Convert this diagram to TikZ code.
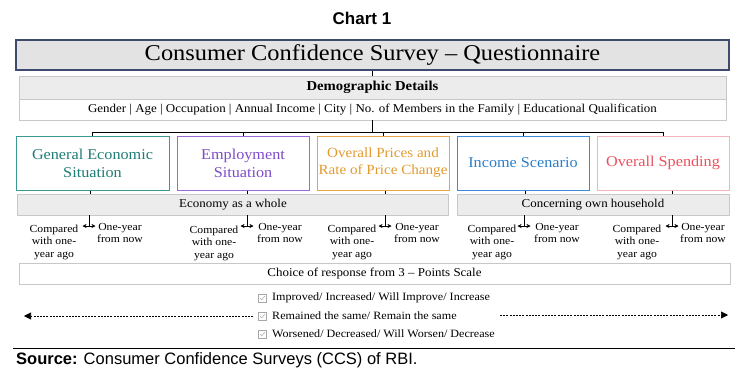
\documentclass[tikz,border=0pt]{standalone}
\usepackage{fontspec}
\setmainfont{Liberation Serif}[FakeStretch=1.08]
\newfontfamily\arialf{Liberation Sans}
\usetikzlibrary{arrows.meta,calc}
\newcommand\myfs[2]{\fontsize{#1}{#2}\selectfont}
\definecolor{titleb}{HTML}{3E4A6E}
\definecolor{titlef}{HTML}{E3E3E3}
\definecolor{barf}{HTML}{ECECEC}
\definecolor{lineg}{HTML}{C8C8C8}
\definecolor{tealb}{HTML}{3A9A92}
\definecolor{tealt}{HTML}{1F7D76}
\definecolor{purpb}{HTML}{9A6AD6}
\definecolor{purpt}{HTML}{7E4CC8}
\definecolor{orab}{HTML}{EBA443}
\definecolor{orat}{HTML}{E39A2E}
\definecolor{blueb}{HTML}{3D8BD6}
\definecolor{bluet}{HTML}{2A7FCB}
\definecolor{pinkb}{HTML}{F4B6BE}
\definecolor{pinkt}{HTML}{EE4F5D}
\definecolor{chk}{HTML}{A8A8A8}
\begin{document}
\begin{tikzpicture}[x=1pt,y=-1pt,
  greybox/.style={draw=lineg, fill=barf, inner sep=0pt},
  whitebox/.style={draw=lineg, fill=white, inner sep=0pt},
  topic/.style={draw=#1, line width=1pt, fill=white, minimum width=132pt, minimum height=54pt, inner sep=0pt, align=center, font=\myfs{15}{18}},
  conn/.style={line width=0.8pt, black},
  stub/.style={line width=0.8pt, black},
  twoway/.style={line width=0.6pt, {Stealth[length=4pt,width=4pt]}-{Stealth[length=4pt,width=4pt]}},
  cmp/.style={align=center, font=\myfs{10.8}{12.2}, anchor=north, inner sep=0pt},
  chkbox/.style={draw=chk, minimum size=8pt, inner sep=0pt, line width=0.5pt},
  chktxt/.style={anchor=west, inner sep=0pt, font=\myfs{11.2}{13}},
  dasharrow/.style={dash pattern=on 2pt off 1.2pt, line width=0.6pt, -{Triangle[length=7pt,width=7pt]}}
]
\useasboundingbox (0,0) rectangle (744,381);

% Header
\node[font=\arialf\bfseries\myfs{17}{19}] (chart) at (362,18) {Chart 1};

\node[draw=titleb, line width=1.2pt, fill=titlef, minimum width=713pt, minimum height=30pt, inner sep=0pt, font=\myfs{22.6}{24}] (title) at (372.5,55) {Consumer Confidence Survey – Questionnaire};

\node[greybox, minimum width=707pt, minimum height=23pt, font=\bfseries\myfs{13.6}{15}] (demo) at (372.5,87.5) {Demographic Details};
\node[whitebox, minimum width=707pt, minimum height=21pt, font=\myfs{12}{13}] (gender) at (372.5,109.5) {Gender | Age | Occupation | Annual Income | City | No. of Members in the Family | Educational Qualification};

\draw[conn] (title.south) -- (demo.north);

% Topic boxes
\node[topic=tealb, minimum width=153pt, text=tealt] (b1) at (92.5,163) {General Economic\\Situation};
\node[topic=purpb, text=purpt] (b2) at (243,163) {Employment\\Situation};
\node[topic=orab, text=orat, font=\myfs{14}{17}] (b3) at (383,163) {Overall Prices and\\Rate of Price Change};
\node[topic=blueb, text=bluet] (b4) at (523,163) {Income Scenario};
\node[topic=pinkb, text=pinkt] (b5) at (663,163) {Overall Spending};

\coordinate (bus) at (372.5,132);
\draw[conn] (gender.south) -- (bus);
\draw[conn] (b1.north) -- (b1.north |- bus) -- (b5.north |- bus) -- (b5.north);
\draw[conn] (b2.north) -- (b2.north |- bus);
\draw[conn] (b3.north) -- (b3.north |- bus);
\draw[conn] (b4.north) -- (b4.north |- bus);

% Bars
\node[greybox, minimum width=431pt, minimum height=21pt, font=\myfs{12}{13}] (econ) at (233,204.5) {Economy as a whole};
\node[greybox, minimum width=272pt, minimum height=21pt, font=\myfs{12}{13}] (house) at (593,204.5) {Concerning own household};

% stems from boxes to bars
\draw[stub] ([xshift=-2.5pt]b1.south) -- ([xshift=-2.5pt]b1.south |- econ.north);
\draw[stub] ([xshift=4pt]b2.south) -- ([xshift=4pt]b2.south |- econ.north);
\draw[stub] ([xshift=2pt]b3.south) -- ([xshift=2pt]b3.south |- econ.north);
\draw[stub] ([xshift=2pt]b4.south) -- ([xshift=2pt]b4.south |- house.north);
\draw[stub] ([xshift=9pt]b5.south) -- ([xshift=9pt]b5.south |- house.north);

% arrows below bars
\coordinate (a1) at (89,226);
\coordinate (a2) at (247,226);
\coordinate (a3) at (385,226);
\coordinate (a4) at (524,226);
\coordinate (a5) at (672,226);
\foreach \i/\bar in {1/econ,2/econ,3/econ,4/house,5/house}{
  \draw[stub] (a\i |- \bar.south) -- (a\i);
  \draw[twoway] ([xshift=-6.5pt]a\i) -- ([xshift=6.5pt]a\i);
}

% Compared / one-year labels
\node[cmp] (c1) at (54,225) {Compared\\with one-\\year ago};
\node[cmp] (o1) at (120,223) {One-year\\from now};
\node[cmp] (c2) at (214,226) {Compared\\with one-\\year ago};
\node[cmp] (o2) at (280,223) {One-year\\from now};
\node[cmp] (c3) at (352,225) {Compared\\with one-\\year ago};
\node[cmp] (o3) at (417,223) {One-year\\from now};
\node[cmp] (c4) at (492,225) {Compared\\with one-\\year ago};
\node[cmp] (o4) at (557,223) {One-year\\from now};
\node[cmp] (c5) at (637,225) {Compared\\with one-\\year ago};
\node[cmp] (o5) at (703,223) {One-year\\from now};

% Choice box
\node[whitebox, minimum width=711pt, minimum height=21pt, font=\myfs{12}{13}] (choice) at (374.5,273.5) {Choice of response from 3 – Points Scale};

% checkboxes
\foreach \i/\yy/\txt in {1/298/{Improved/ Increased/ Will Improve/ Increase},2/316/{Remained the same/ Remain the same},3/334/{Worsened/ Decreased/ Will Worsen/ Decrease}}{
  \node[chkbox] (k\i) at (262.5,\yy) {};
  \draw[chk, line width=0.5pt] ([shift={(-2.3,0.2)}]k\i.center) -- ([shift={(-0.7,1.9)}]k\i.center) -- ([shift={(2.4,-2)}]k\i.center);
  \node[chktxt] (t\i) at (272,\yy) {\txt};
}

% dashed arrows
\coordinate (lend) at (24,316);
\coordinate (rstart) at (500,315);
\coordinate (rend) at (728,315);
\draw[dasharrow] ([xshift=-5pt]k2.west) -- (lend);
\draw[dasharrow] (rstart) -- (rend);

% source
\coordinate (sl) at (13,348);
\coordinate (sr) at (735,348);
\draw[line width=0.9pt] (sl) -- (sr);
\node[anchor=west, inner sep=0pt, font=\arialf\myfs{16.5}{18}] (src) at (16,360) {\textbf{Source:} Consumer Confidence Surveys (CCS) of RBI.};
\end{tikzpicture}
\end{document}
